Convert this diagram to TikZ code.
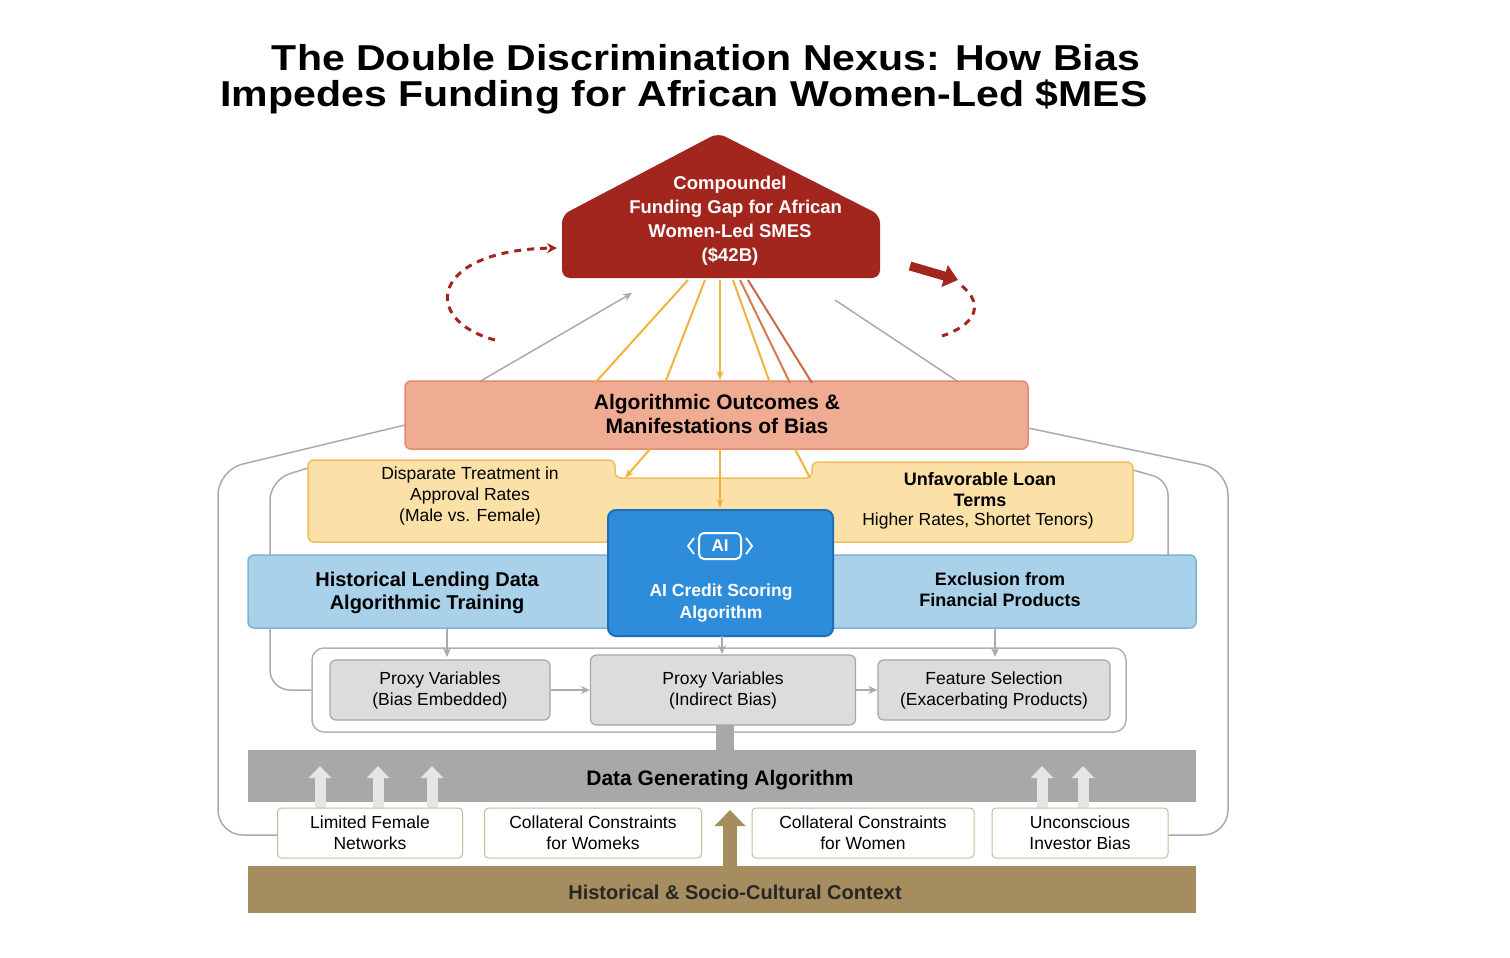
\documentclass[tikz,border=0pt]{standalone}
\usepackage{fontspec}
\setmainfont{Liberation Sans}
\usetikzlibrary{arrows.meta}
\definecolor{dred}{HTML}{A3261E}
\definecolor{outc}{HTML}{EFAC93}
\definecolor{outb}{HTML}{E08A70}
\definecolor{yel}{HTML}{FBE1A8}
\definecolor{yelb}{HTML}{EFC060}
\definecolor{lblue}{HTML}{A9D1EA}
\definecolor{lblueb}{HTML}{7DB3D8}
\definecolor{aiblue}{HTML}{2E8DDB}
\definecolor{aib}{HTML}{1F6FB8}
\definecolor{gbox}{HTML}{DCDCDC}
\definecolor{gband}{HTML}{A8A8A8}
\definecolor{brown}{HTML}{A68D5F}
\definecolor{lnk}{HTML}{ABABAB}
\definecolor{yl}{HTML}{F0B43A}
\definecolor{ol}{HTML}{D9794F}
\begin{document}
\begin{tikzpicture}[x=1pt,y=-1pt,
  txt/.style={align=center,font=\fontsize{18}{21}\selectfont\bfseries,inner sep=0},
  small/.style={align=center,font=\fontsize{17.5}{21}\selectfont,inner sep=0},
  ttl/.style={font=\fontsize{36}{40}\selectfont\bfseries,anchor=center,inner sep=0,xscale=1.14},
  gb/.style={draw=gray!70,fill=gbox,rounded corners=6,line width=1.2},
  wb/.style={draw=brown!60,fill=white,rounded corners=4,line width=1},
  gl/.style={draw=lnk,line width=1.5},
  ga/.style={-{Stealth[length=9,width=8]},draw=lnk,line width=1.5},
  la/.style={-{Triangle[length=12,width=22]},line width=11,draw=gray!20}]
\useasboundingbox (0,0) rectangle (1510,958);
\fill[white] (0,0) rectangle (1510,958);
% title
\node[ttl] (t1) at (706,58) {The Double Discrimination Nexus: How Bias};
\node[ttl] (t2) at (684,97) {Impedes Funding for African Women-Led \$MES};
% outer gray loops
\draw[gl,rounded corners=25] (278,835) -- (218,835) -- (218,470) -- (405,425);
\draw[ga] (405,425) -- (632,293);
\draw[gl,rounded corners=20] (330,690) -- (270,690) -- (270,480) -- (308,468);
\draw[gl,rounded corners=25] (1168,835) -- (1228,835) -- (1228,470) -- (1028,428);
\draw[gl] (1028,428) -- (835,300);
\draw[gl,rounded corners=15] (1133,470) -- (1168,480) -- (1168,555);
% house
\fill[dred,rounded corners=8] (562,278) -- (562,215) -- (718,133) -- (880,215) -- (880,278) -- cycle;
\node[font=\fontsize{18.5}{24}\selectfont\bfseries,text=white,align=center,inner sep=0] (ht) at (730,221) {Compoundel\\Funding Gap for Africa\rlap{n}\\Women-Led SMES\\(\$42B)};
% dashed loops
\draw[dred,dashed,line width=3,dash pattern=on 7 off 6,-{Stealth[length=10,width=10]}] (495,340) .. controls (420,320) and (430,250) .. (557,248);
\draw[dred,line width=9,-{Triangle[length=14,width=22]}] (910,266) -- (958,280);
\draw[dred,line width=3,dash pattern=on 7 off 6] (962,286) .. controls (985,305) and (975,325) .. (942,336);
% outcomes box
\draw[outb,fill=outc,rounded corners=6,line width=1.5] (405,381) rectangle (1028,449);
\node[font=\fontsize{21}{24}\selectfont\bfseries,align=center,inner sep=0] (out) at (717,414) {Algorithmic Outcomes \&\\Manifestations of Bias};
% rays
\draw[yl,line width=2] (688,280) -- (595,383);
\draw[yl,line width=2] (705,280) -- (665,383);
\draw[yl,line width=2,-{Stealth[length=9]}] (720,280) -- (720,380);
\draw[yl,line width=2] (733,280) -- (770,383);
\draw[ol,line width=2] (740,280) -- (790,383);
\draw[ol!80!dred,line width=2] (748,280) -- (812,383);
% yellow region
\draw[yelb,fill=yel,line width=1.5,rounded corners=6] (308,460) -- (615,460) -- (615,478) -- (812,478) -- (812,462) -- (1133,462) -- (1133,542) -- (308,542) -- cycle;
\draw[yl,line width=2,-{Stealth[length=9]}] (650,449) -- (625,478);
\draw[yl,line width=2,-{Stealth[length=9]}] (720,449) -- (720,508);
\draw[yl,line width=2] (795,449) -- (810,478);
\node[small] (dt) at (470,496) {Disparate Treatment in\\Approval Rates\\(Male vs. Female)};
\node[small,font=\fontsize{18}{21}\selectfont\bfseries] (ul) at (980,490) {Unfavorable Loan\\Terms};
\node[small] (ul2) at (978,521) {Higher Rates, Shortet Tenors)};
% blue band
\draw[lblueb,fill=lblue,rounded corners=6,line width=1.5] (248,555) rectangle (1196,628);
\node[font=\fontsize{20}{23}\selectfont\bfseries,align=center,inner sep=0] (hl) at (427,593) {Historical Lending Data\\Algorithmic Training};
\node[txt] (ex) at (1000,590) {Exclusion from\\Financial Products};
% AI box
\draw[aib,fill=aiblue,rounded corners=8,line width=2] (608,510) rectangle (833,636);
\node[draw=white,line width=2,rounded corners=5,minimum width=42,minimum height=26,text=white,font=\fontsize{17}{20}\selectfont\bfseries,inner sep=1] (icon) at (720,546) {AI};
\draw[white,line width=1.8] (694,538) -- (688,546) -- (694,554) (746,538) -- (752,546) -- (746,554);
\node[txt,text=white,font=\fontsize{17.5}{22}\selectfont\bfseries] (ai) at (721,603) {AI Credit Scoring\\Algorithm};
% container and gray boxes
\draw[draw=gray!60,fill=white,rounded corners=12,line width=1.5] (312,648) rectangle (1126,732);
\draw[ga] (447,628) -- (447,657);
\draw[ga] (722,636) -- (722,654);
\draw[ga] (995,628) -- (995,657);
\node[gb,minimum width=220,minimum height=60,small] (p1) at (440,690) {Proxy Variables\\(Bias Embedded)};
\node[gb,minimum width=265,minimum height=70,small] (p2) at (723,690) {Proxy Variables\\(Indirect Bias)};
\node[gb,minimum width=232,minimum height=60,small] (p3) at (994,690) {Feature Selection\\(Exacerbating Products)};
\draw[ga] (p1) -- (p2);
\draw[ga] (p2) -- (p3);
% data band
\fill[gband] (716,725) rectangle (734,752);
\fill[gband] (248,750) rectangle (1196,802);
\node[font=\fontsize{21}{24}\selectfont\bfseries,inner sep=0] (dg) at (720,780) {Data Generating Algorithm};
\foreach \x in {320,378,432,1042,1083} \draw[la] (\x,810) -- (\x,766);
% bottom band
\fill[brown] (248,866) rectangle (1196,913);
\node[font=\fontsize{20}{23}\selectfont\bfseries,text=black!85,inner sep=0] (hc) at (735,892) {Historical \& Socio-Cultural Context};
\draw[la,draw=brown,-{Triangle[length=16,width=30]},line width=14] (730,868) -- (730,810);
\node[wb,minimum width=185,minimum height=50,small] (b1) at (370,833) {Limited Female\\Networks};
\node[wb,minimum width=217,minimum height=50,small] (b2) at (593,833) {Collateral Constraints\\for Womeks};
\node[wb,minimum width=222,minimum height=50,small] (b3) at (863,833) {Collateral Constraints\\for Women};
\node[wb,minimum width=176,minimum height=50,small] (b4) at (1080,833) {Unconscious\\Investor Bias};
\end{tikzpicture}
\end{document}
